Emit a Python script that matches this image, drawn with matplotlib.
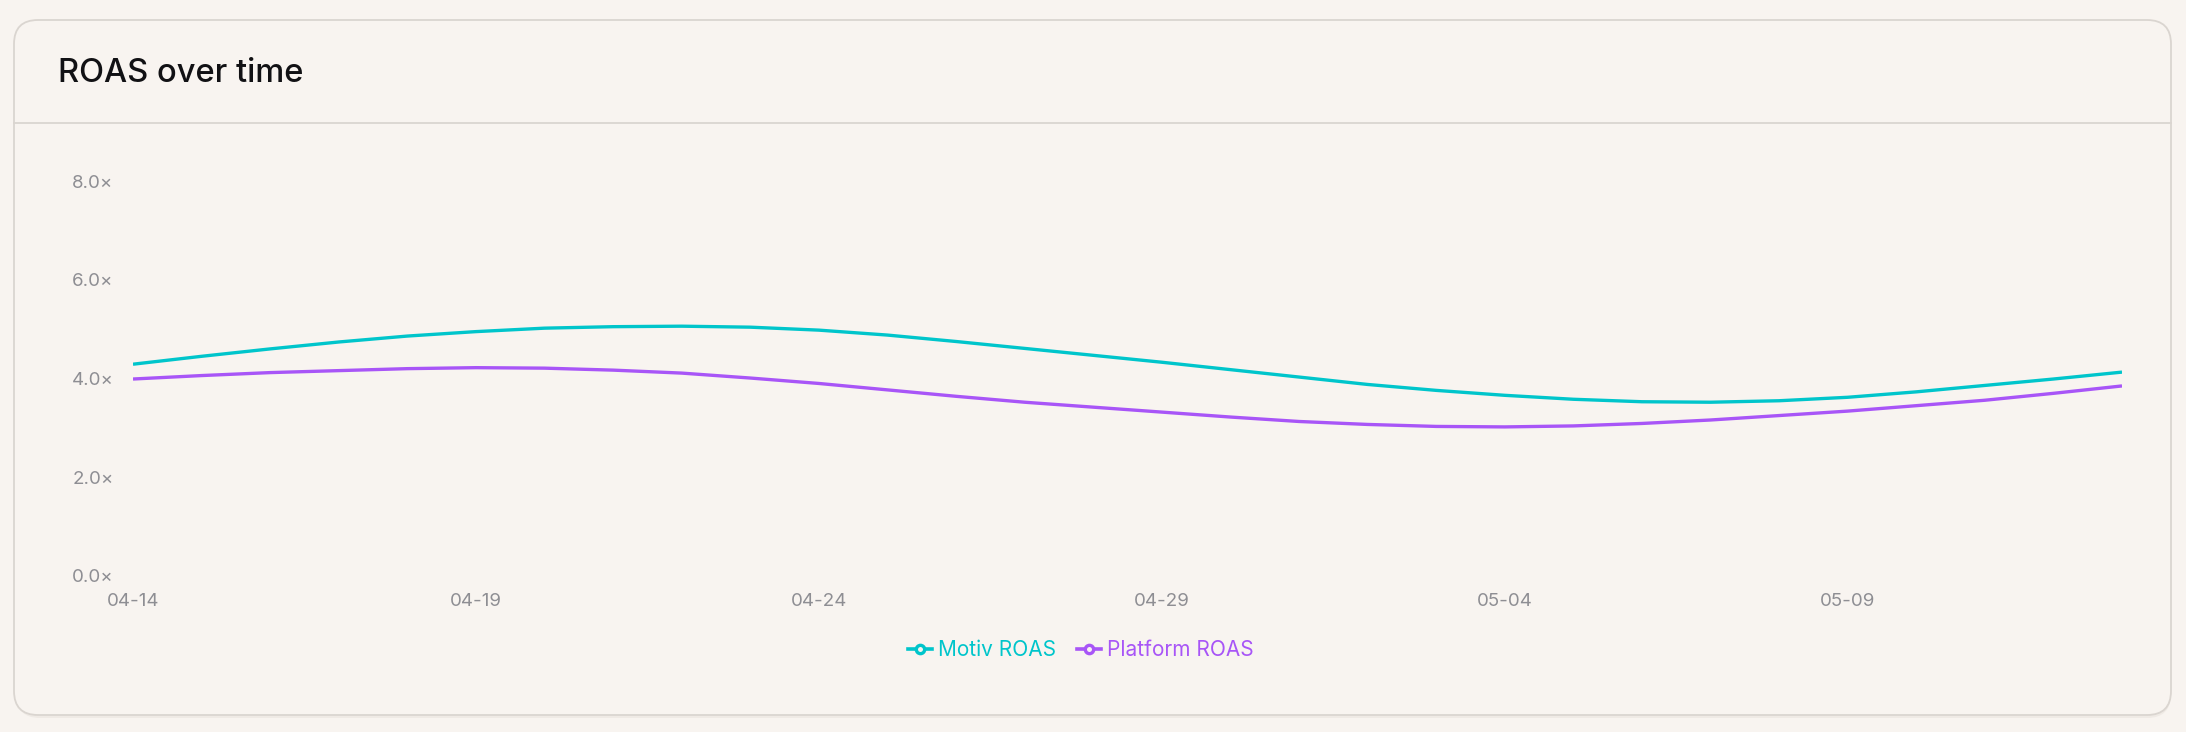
import matplotlib
matplotlib.use('Agg')
import matplotlib.pyplot as plt
from matplotlib.patches import FancyBboxPatch
from matplotlib.lines import Line2D
import matplotlib.ticker as mticker
import numpy as np
import pandas as pd

plt.rcParams['font.family'] = ['Inter', 'DejaVu Sans']

# ── colours ──
BG = '#F8F4F0'
BORDER = '#DAD5D0'
TITLE = '#111114'
TICK = '#8E8E93'
CYAN = '#00C5CB'
PURPLE = '#A855F7'

# ── data ──
dates = pd.date_range('2024-04-14', '2024-05-13', freq='D')
motiv_roas = [4.33, 4.49, 4.64, 4.78, 4.90, 4.99, 5.06, 5.09, 5.10, 5.08,
              5.02, 4.92, 4.79, 4.65, 4.51, 4.37, 4.22, 4.07, 3.92, 3.80,
              3.70, 3.62, 3.57, 3.56, 3.59, 3.66, 3.77, 3.90, 4.03, 4.17]
platform_roas = [4.03, 4.10, 4.16, 4.20, 4.24, 4.26, 4.25, 4.21, 4.15, 4.05,
                 3.94, 3.81, 3.68, 3.56, 3.46, 3.36, 3.26, 3.17, 3.11, 3.07,
                 3.06, 3.08, 3.13, 3.20, 3.29, 3.38, 3.49, 3.60, 3.74, 3.89]
y_ticks = [0, 2, 4, 6, 8]
x_tick_every = 5

W, H = 2186, 732
fig = plt.figure(figsize=(W / 100, H / 100), dpi=100)
fig.patch.set_facecolor(BG)

# card background, border, header divider (pixel coordinates)
bg = fig.add_axes([0, 0, 1, 1])
bg.set_xlim(0, W)
bg.set_ylim(H, 0)
bg.axis('off')
bg.add_patch(FancyBboxPatch((16, 23), 2155, 695, boxstyle='round,pad=0,rounding_size=24',
                            facecolor='#EFEAE5', edgecolor='none', zorder=0))
bg.add_patch(FancyBboxPatch((14, 20), 2157, 695, boxstyle='round,pad=0,rounding_size=24',
                            facecolor=BG, edgecolor=BORDER, linewidth=1.3, zorder=1))
bg.plot([14, 2171], [123, 123], color=BORDER, linewidth=1.3, zorder=2)
bg.text(58, 74, 'ROAS over time', fontsize=23.5, fontweight='medium',
        color=TITLE, va='center', ha='left', zorder=3)

# main chart
ax = fig.add_axes([133 / W, 1 - 578 / H, (2122 - 133) / W, (578 - 183) / H])
ax.set_facecolor('none')
x = np.arange(len(dates))
ax.plot(x, motiv_roas, color=CYAN, linewidth=2.4, solid_capstyle='butt')
ax.plot(x, platform_roas, color=PURPLE, linewidth=2.4, solid_capstyle='butt')

ax.set_xlim(0, len(dates) - 1)
ax.set_ylim(0, 8)
ax.set_yticks(y_ticks)
ax.yaxis.set_major_formatter(mticker.FuncFormatter(lambda v, p: f'{v:.1f}×'))
xt = x[::x_tick_every]
ax.set_xticks(xt)
ax.set_xticklabels([dates[i].strftime('%m-%d') for i in xt])
for s in ax.spines.values():
    s.set_visible(False)
ax.tick_params(axis='both', length=0, colors=TICK, labelsize=13.5)
ax.tick_params(axis='y', pad=14)
ax.tick_params(axis='x', pad=11)
for lbl in ax.get_yticklabels():
    lbl.set_verticalalignment('center')

handles = [
    Line2D([], [], color=CYAN, linewidth=2.6, marker='o', markersize=6,
           markerfacecolor=BG, markeredgewidth=2.4),
    Line2D([], [], color=PURPLE, linewidth=2.6, marker='o', markersize=6,
           markerfacecolor=BG, markeredgewidth=2.4),
]
fig.legend(handles, ['Motiv ROAS', 'Platform ROAS'], loc='center',
           bbox_to_anchor=(1081 / W, 1 - 650 / H), ncol=2, frameon=False,
           fontsize=15, labelcolor=[CYAN, PURPLE], handlelength=1.15,
           handletextpad=0.3, columnspacing=1.0)

fig.savefig('out.png', dpi=100, facecolor=BG)
